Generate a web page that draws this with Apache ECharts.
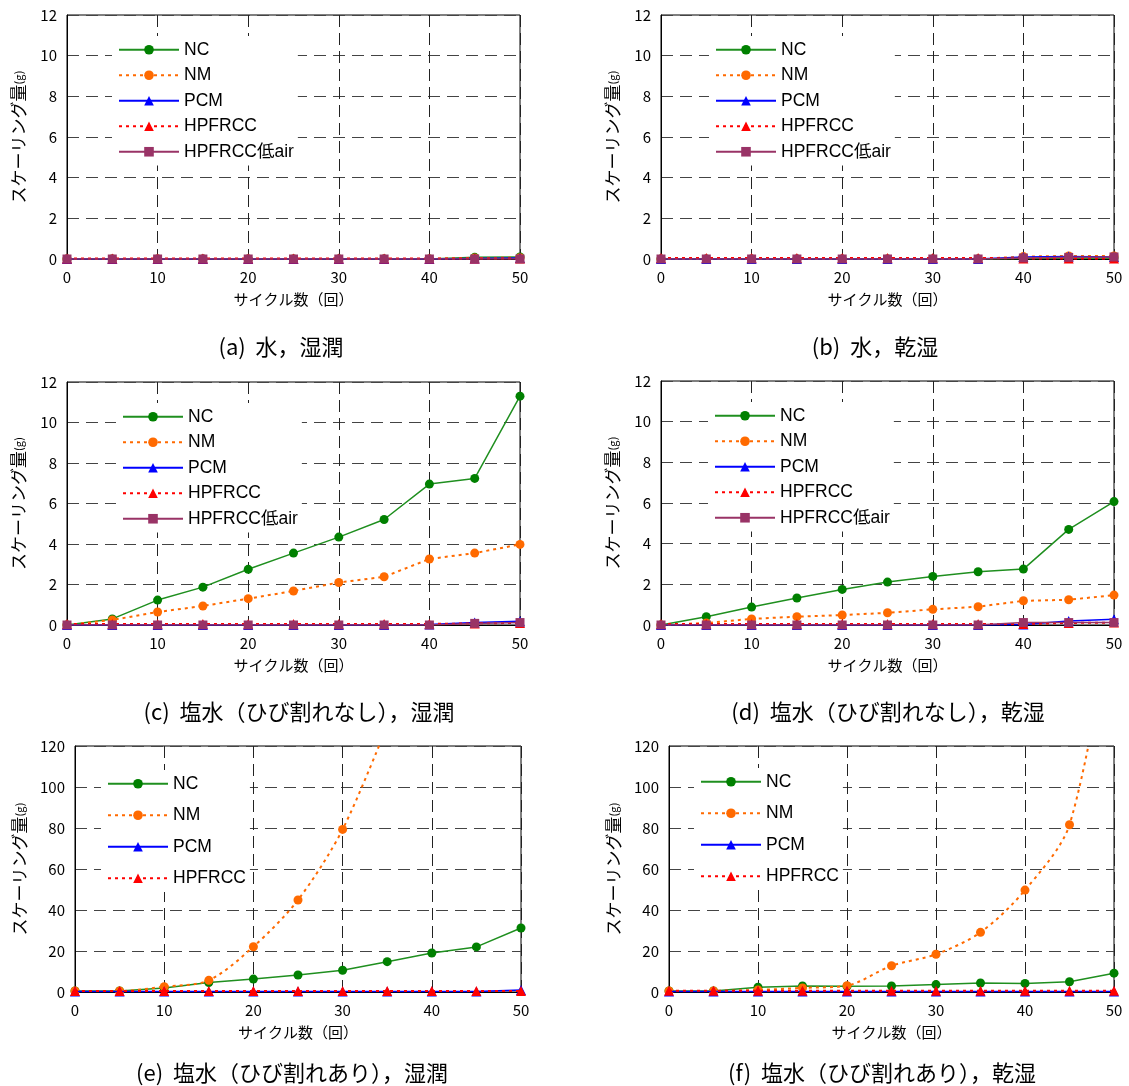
<!DOCTYPE html>
<html><head><meta charset="utf-8">
<script src="https://cdn.jsdelivr.net/npm/echarts@6/dist/echarts.min.js"></script>
<style>html,body{margin:0;padding:0;background:#fff}#c{width:1129px;height:1086px}</style>
</head><body><div id="c"></div>
<script>
const cycles = [0,5,10,15,20,25,30,35,40,45,50];
const yTicks12 = [0,2,4,6,8,10,12];
const yTicks120 = [0,20,40,60,80,100,120];
const names5 = ['NC','NM','PCM','HPFRCC','HPFRCC低air'];
const names4 = ['NC','NM','PCM','HPFRCC'];
// (a) 水，湿潤
const aNC  = [0,0,0,0,0,0,0,0,0,0.08,0.1];
const aNM  = [0,0,0,0,0,0,0,0,0,0.05,0.06];
const aPCM = [0,0,0,0,0,0,0,0,0,0.03,0.05];
const aHP  = [0.02,0.02,0.02,0.02,0.02,0.02,0.02,0.02,0.02,0.02,0.02];
const aLow = [0,0,0,0,0,0,0,0,0,0,0];
// (b) 水，乾湿
const bNC  = [0,0,0,0,0,0,0,0,0.03,0.05,0.05];
const bNM  = [0,0,0,0,0,0,0,0,0.12,0.15,0.15];
const bPCM = [0,0,0,0,0,0,0,0,0.1,0.12,0.1];
const bHP  = [0.05,0.05,0.05,0.05,0.05,0.05,0.05,0.05,0.03,0.03,0.03];
const bLow = [0,0,0,0,0,0,0,0,0.05,0.08,0.1];
// (c) 塩水（ひび割れなし），湿潤
const cNC  = [0,0.3,1.23,1.87,2.75,3.55,4.34,5.21,6.96,7.24,11.3];
const cNM  = [0,0.25,0.64,0.94,1.3,1.68,2.1,2.38,3.26,3.55,3.98];
const cPCM = [0,0,0,0,0,0,0,0,0.02,0.12,0.18];
const cHP  = [0.05,0.05,0.05,0.05,0.05,0.05,0.05,0.05,0.05,0.08,0.1];
const cLow = [0,0,0,0,0,0,0,0,0,0.08,0.12];
// (d) 塩水（ひび割れなし），乾湿
const dNC  = [0,0.41,0.88,1.33,1.75,2.11,2.39,2.62,2.75,4.7,6.07];
const dNM  = [0,0.1,0.3,0.41,0.49,0.6,0.77,0.9,1.19,1.24,1.47];
const dPCM = [0,0,0,0,0,0,0,0,0.03,0.2,0.28];
const dHP  = [0.05,0.05,0.05,0.05,0.05,0.05,0.05,0.05,0.05,0.1,0.12];
const dLow = [0,0,0,0,0,0,0,0,0.12,0.12,0.12];
// (e) 塩水（ひび割れあり），湿潤
const eNC  = [0.5,0.5,1.9,4.6,6.3,8.3,10.6,14.8,19.0,22.0,31.2];
const eNM  = [0.5,0.5,2.6,5.7,22.1,44.9,79.3,130];
const ePCM = [0.2,0.2,0.2,0.2,0.2,0.2,0.2,0.2,0.2,0.2,1.0];
const eHP  = [0.5,0.5,0.5,0.5,0.5,0.5,0.5,0.5,0.5,0.5,0.5];
// (f) 塩水（ひび割れあり），乾湿
const fNC  = [0.5,0.5,2.3,2.9,2.8,2.9,3.6,4.4,4.2,5.0,9.2];
const fNM  = [0.5,0.5,1.0,2.0,3.1,12.8,18.4,29.1,49.7,81.6,190];
const fPCM = [0.2,0.2,0.2,0.2,0.2,0.2,0.2,0.2,0.2,0.2,0.2];
const fHP  = [0.6,0.6,0.6,0.6,0.6,0.6,0.6,0.6,0.6,0.6,0.6];
const captions = ['(a)  水，湿潤','(b)  水，乾湿','(c)  塩水（ひび割れなし），湿潤','(d)  塩水（ひび割れなし），乾湿','(e)  塩水（ひび割れあり），湿潤','(f)  塩水（ひび割れあり），乾湿'];

const panels = [
  {grid:{left:67,top:15,width:453,height:244}, yt:yTicks12, data:[aNC,aNM,aPCM,aHP,aLow], names:names5, leg:{left:112,top:36,gap:8}, cap:[281,347], yGap:40, smoothNM:false},
  {grid:{left:661,top:15,width:453,height:244}, yt:yTicks12, data:[bNC,bNM,bPCM,bHP,bLow], names:names5, leg:{left:709,top:36,gap:8}, cap:[875,347], yGap:40, smoothNM:false},
  {grid:{left:67,top:382,width:453,height:243}, yt:yTicks12, data:[cNC,cNM,cPCM,cHP,cLow], names:names5, leg:{left:116,top:403,gap:8}, cap:[299,712], yGap:40, smoothNM:false},
  {grid:{left:661,top:381,width:453,height:244}, yt:yTicks12, data:[dNC,dNM,dPCM,dHP,dLow], names:names5, leg:{left:708,top:402,gap:8}, cap:[888,712], yGap:40, smoothNM:false},
  {grid:{left:75,top:746,width:446,height:246}, yt:yTicks120, data:[eNC,eNM,ePCM,eHP], names:names4, leg:{left:101,top:770,gap:14}, cap:[292,1073], yGap:47, smoothNM:true},
  {grid:{left:669,top:746,width:445,height:246}, yt:yTicks120, data:[fNC,fNM,fPCM,fHP], names:names4, leg:{left:694,top:768,gap:14}, cap:[882,1073], yGap:47, smoothNM:true}
];

const styles = {
  'NC':         {color:'#1f8f1f', mark:'#008000', symbol:'circle', size:9, type:'solid', width:1.5},
  'NM':         {color:'#ff6a00', mark:'#ff6a00', symbol:'circle', size:9, type:[3,4], width:2},
  'PCM':        {color:'#0000ff', mark:'#0000ff', symbol:'triangle', size:10, type:'solid', width:1.5},
  'HPFRCC':     {color:'#ff0000', mark:'#ff0000', symbol:'triangle', size:10, type:[3,4], width:2},
  'HPFRCC低air':{color:'#993366', mark:'#993366', symbol:'rect', size:9, type:'solid', width:1.5}
};

const CJK = '"Noto Sans CJK JP", sans-serif';
const LAT = '"Liberation Sans", Arial, "Noto Sans CJK JP", sans-serif';
const option = {animation:false, backgroundColor:'#fff', grid:[], xAxis:[], yAxis:[], legend:[], series:[], graphic:[]};

panels.forEach((p,i)=>{
  option.grid.push(Object.assign({show:true, borderColor:'#000', borderWidth:1, backgroundColor:'transparent', containLabel:false}, p.grid));
  const ymax = p.yt[p.yt.length-1];
  option.xAxis.push({type:'value', gridIndex:i, min:0, max:50, interval:10,
    name:'サイクル数（回）', nameLocation:'middle', nameGap:33,
    nameTextStyle:{fontFamily:CJK, fontSize:15, color:'#000'},
    axisLine:{show:true, onZero:false, lineStyle:{color:'#000', width:1}},
    axisTick:{show:false},
    axisLabel:{fontFamily:CJK, fontSize:15, color:'#000', margin:11},
    splitLine:{show:true, lineStyle:{color:'#222', type:[12,6], width:1}}});
  option.yAxis.push({type:'value', gridIndex:i, min:0, max:ymax, interval:p.yt[1]-p.yt[0],
    name:'スケーリング量{s|(g)}', nameLocation:'middle', nameGap:p.yGap, nameRotate:90,
    nameTextStyle:{fontFamily:CJK, fontSize:17, color:'#000', rich:{s:{fontFamily:CJK, fontSize:11, color:'#000'}}},
    axisLine:{show:true, lineStyle:{color:'#000', width:1}},
    axisTick:{show:false},
    axisLabel:{fontFamily:CJK, fontSize:15, color:'#000', margin:10},
    splitLine:{show:true, lineStyle:{color:'#444', type:[12,7], width:1}}});
  option.legend.push({orient:'vertical', left:p.leg.left, top:p.leg.top, data:p.names,
    itemWidth:60, itemHeight:12, itemGap:p.leg.gap, padding:[5,4,5,6],
    backgroundColor:'#fff', selectedMode:false,
    textStyle:{fontFamily:LAT, fontSize:17.5, color:'#000', lineHeight:17}});
  p.names.forEach((n,k)=>{
    const s = styles[n];
    const vals = p.data[k];
    option.series.push({type:'line', name:n, xAxisIndex:i, yAxisIndex:i,
      data: vals.map((v,j)=>[cycles[j], v]),
      symbol:s.symbol, symbolSize:s.size, showSymbol:true,
      smooth: (n==='NM' && p.smoothNM) ? 0.3 : false,
      clip:true,
      lineStyle:{color:s.color, width:s.width, type:s.type},
      itemStyle:{color:s.mark},
      z: 2 + k*0.1});
  });
  option.graphic.push({type:'text', x:p.cap[0], y:p.cap[1],
    style:{text:captions[i], fontFamily:CJK, fontSize:22, fill:'#000', textAlign:'center', textVerticalAlign:'middle'}});
});

const chart = echarts.init(document.getElementById('c'), null, {renderer:'canvas'});
chart.setOption(option);
</script></body></html>
